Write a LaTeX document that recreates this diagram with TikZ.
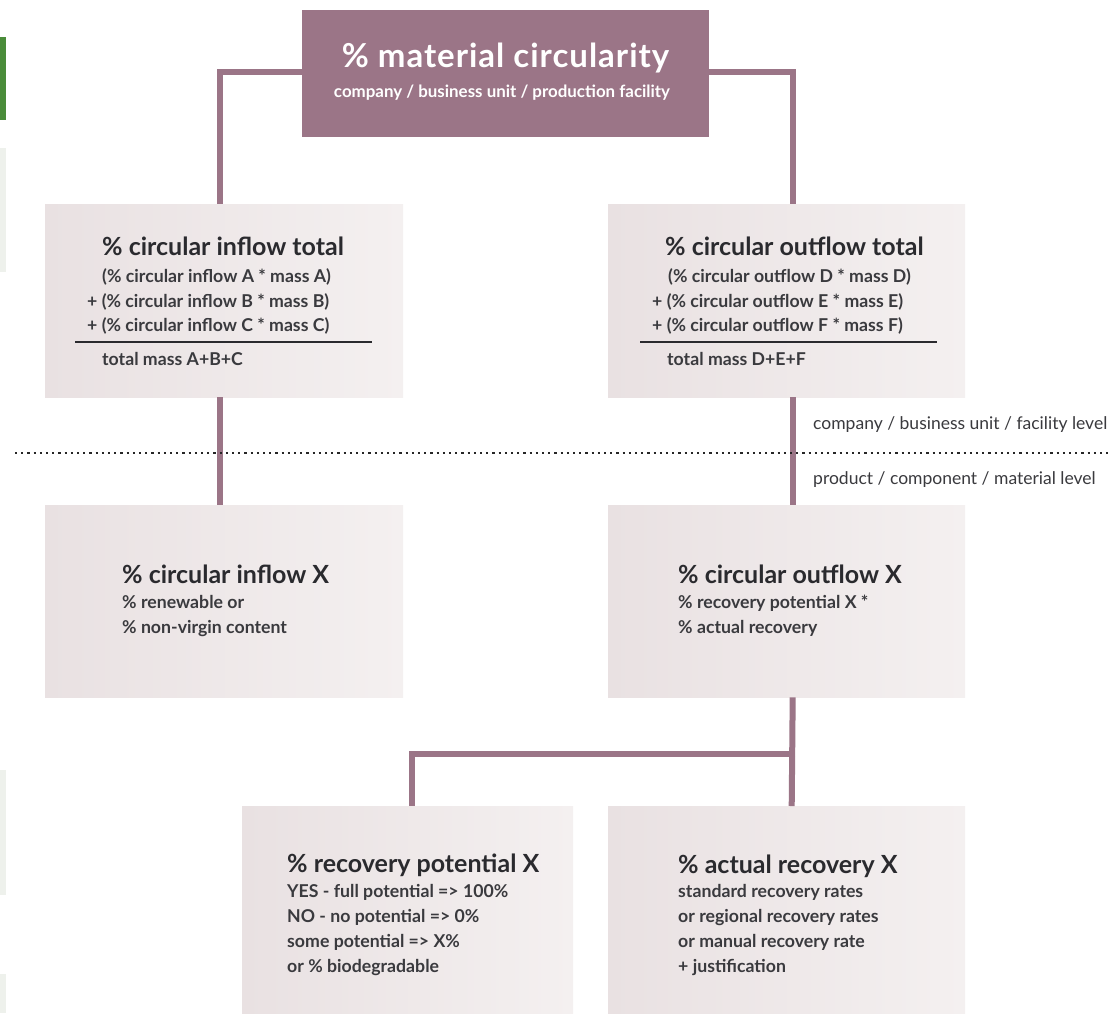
\documentclass[tikz,border=0pt]{standalone}
\usepackage{fontspec}
\setmainfont{Lato}
\definecolor{mauve}{HTML}{9B7587}
\definecolor{boxl}{HTML}{E9E1E2}
\definecolor{boxr}{HTML}{F4F0F0}
\definecolor{ink}{HTML}{2A2A2E}
\definecolor{inkb}{HTML}{3A3A3E}
\definecolor{greenbar}{HTML}{4A8C3A}
\definecolor{faint}{HTML}{EEF1EC}
\begin{document}
\begin{tikzpicture}[x=1pt,y=-1pt,
  lbox/.style={shape=rectangle,inner sep=0pt,left color=boxl,right color=boxr,draw=none,anchor=north west},
  conn/.style={draw=mauve,line width=6pt},
  ttl/.style={anchor=base west,inner sep=0pt,text=ink,font=\bfseries\fontsize{25}{28}\selectfont},
  bdy/.style={anchor=base west,inner sep=0pt,text=inkb,font=\bfseries\fontsize{17.7}{20}\selectfont},
  lvl/.style={anchor=west,inner sep=0pt,text=inkb,font=\fontsize{17.5}{20}\selectfont}]
\useasboundingbox (0,0) rectangle (1108,1013);
\fill[white] (0,0) rectangle (1108,1013);
% left edge artefacts
\fill[greenbar] (0,37) rectangle (6,120);
\fill[faint] (0,148) rectangle (6,272);
\fill[faint] (0,770) rectangle (6,895);
\fill[faint] (0,974) rectangle (6,1013);
% boxes
\node[shape=rectangle,fill=mauve,inner sep=0pt,minimum width=407pt,minimum height=127pt,anchor=north west] (top) at (302,10) {};
\node[lbox,minimum width=358pt,minimum height=193pt] (cit) at (45,204) {};
\node[lbox,minimum width=357pt,minimum height=193pt] (cot) at (608,204) {};
\node[lbox,minimum width=358pt,minimum height=192pt] (cix) at (45,505) {};
\node[lbox,minimum width=357pt,minimum height=192pt] (cox) at (608,505) {};
\node[lbox,minimum width=331pt,minimum height=208pt] (rp) at (242,806) {};
\node[lbox,minimum width=357pt,minimum height=208pt] (ar) at (608,806) {};
% connectors
\draw[conn] ([yshift=2pt]top.west) -| ([xshift=-4pt]cit.north);
\draw[conn] ([yshift=2pt]top.east) -| ([xshift=6pt]cot.north);
\draw[conn] ([xshift=-4pt]cit.south) -- ([xshift=-4pt]cix.north);
\draw[conn] ([xshift=6pt]cot.south) -- ([xshift=6pt]cox.north);
\draw[conn] ([xshift=6pt]cox.south) -- ([xshift=5pt]ar.north);
\coordinate (j) at (795,754);
\draw[conn] (j) -| ([xshift=4pt]rp.north);
% dotted level line
\draw[line width=2pt,dash pattern=on 2.2pt off 4pt,draw=black!85] (15,453) -- (1108,453);
\node[lvl] (lv1) at (813,425) {company / business unit / facility level};
\node[lvl] (lv2) at (813,480) {product / component / material level};
% top text
\node[anchor=base,inner sep=0pt,text=white,font=\bfseries\fontsize{33}{36}\selectfont\addfontfeature{LetterSpace=3}] (tt) at (505.5,67) {\% material circularity};
\node[anchor=base,inner sep=0pt,text=white,font=\bfseries\fontsize{16.9}{19}\selectfont] (ts) at (502,97) {company / business unit / production facility};
% inflow total
\node[ttl] (t1) at (102,255) {\% circular inflow total};
\node[bdy] (t1a) at (102,282) {(\% circular inflow A * mass A)};
\node[bdy] (t1b) at (87,307) {+ (\% circular inflow B * mass B)};
\node[bdy] (t1c) at (87,331) {+ (\% circular inflow C * mass C)};
\draw[line width=1.3pt,ink] (75,342) -- (372,342);
\node[bdy] (t1d) at (102,365) {total mass A+B+C};
% outflow total
\node[ttl] (t2) at (665,255) {\% circular outflow total};
\node[bdy] (t2a) at (668,282) {(\% circular outflow D * mass D)};
\node[bdy] (t2b) at (652,307) {+ (\% circular outflow E * mass E)};
\node[bdy] (t2c) at (652,331) {+ (\% circular outflow F * mass F)};
\draw[line width=1.3pt,ink] (640,342) -- (937,342);
\node[bdy] (t2d) at (667,365) {total mass D+E+F};
% inflow X
\node[ttl] (t3) at (122,583) {\% circular inflow X};
\node[bdy] (t3a) at (122,608) {\% renewable or};
\node[bdy] (t3b) at (122,633) {\% non-virgin content};
% outflow X
\node[ttl] (t4) at (678,583) {\% circular outflow X};
\node[bdy] (t4a) at (678,608) {\% recovery potential X *};
\node[bdy] (t4b) at (678,633) {\% actual recovery};
% recovery potential
\node[ttl] (t5) at (287,872) {\% recovery potential X};
\node[bdy] (t5a) at (287,897) {YES - full potential => 100\%};
\node[bdy] (t5b) at (287,922) {NO - no potential => 0\%};
\node[bdy] (t5c) at (287,947) {some potential => X\%};
\node[bdy] (t5d) at (287,972) {or \% biodegradable};
% actual recovery
\node[ttl] (t6) at (678,873) {\% actual recovery X};
\node[bdy] (t6a) at (678,897) {standard recovery rates};
\node[bdy] (t6b) at (678,922) {or regional recovery rates};
\node[bdy] (t6c) at (678,947) {or manual recovery rate};
\node[bdy] (t6d) at (678,972) {+ justification};
\end{tikzpicture}
\end{document}
